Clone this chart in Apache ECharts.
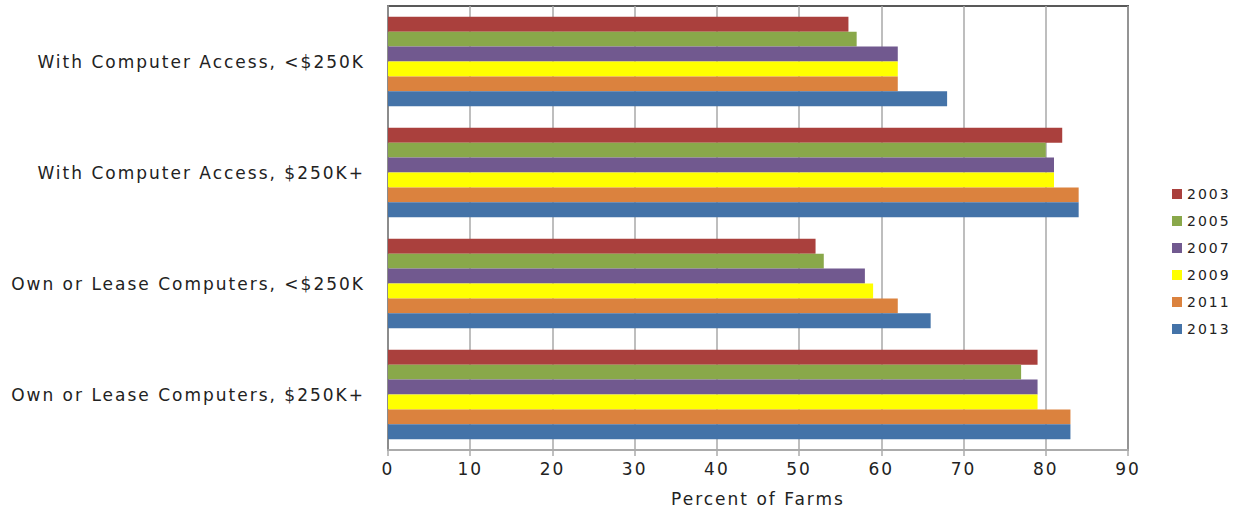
<!DOCTYPE html>
<html>
<head>
<meta charset="utf-8">
<script src="https://cdn.jsdelivr.net/npm/echarts@6/dist/echarts.min.js"></script>
<style>
html,body{margin:0;padding:0;background:#fff;}
#chart{width:1236px;height:514px;}
#chart text{letter-spacing:2px;}
</style>
</head>
<body>
<div id="chart"></div>
<script>
const categories = [
  "With Computer Access, <$250K",
  "With Computer Access, $250K+",
  "Own or Lease Computers, <$250K",
  "Own or Lease Computers, $250K+"
];
const years = ["2003", "2005", "2007", "2009", "2011", "2013"];
const v2003 = [56, 82, 52, 79];
const v2005 = [57, 80, 53, 77];
const v2007 = [62, 81, 58, 79];
const v2009 = [62, 81, 59, 79];
const v2011 = [62, 84, 62, 83];
const v2013 = [68, 84, 66, 83];
const seriesValues = [v2003, v2005, v2007, v2009, v2011, v2013];
const colors = ['#AA403D', '#89A84A', '#71598F', '#FFFF00', '#DB823E', '#4473A8'];
const xTicks = [0, 10, 20, 30, 40, 50, 60, 70, 80, 90];
const axisTitle = "Percent of Farms";

const FONT = "DejaVu Sans";
const chart = echarts.init(document.getElementById('chart'), null, {renderer: 'svg'});
chart.setOption({
  animation: false,
  backgroundColor: '#fff',
  color: colors,
  textStyle: {fontFamily: FONT},
  grid: {
    left: 388, right: 108, top: 6, bottom: 64,
    outerBoundsMode: 'none',
    containLabel: false,
    show: true, borderColor: '#595959', borderWidth: 2, backgroundColor: 'transparent'
  },
  legend: {
    orient: 'vertical',
    left: 1172, top: 186,
    padding: 0,
    itemWidth: 10, itemHeight: 10, itemGap: 11,
    icon: 'rect',
    textStyle: {fontFamily: FONT, fontSize: 14, color: '#222', lineHeight: 16},
    data: years
  },
  xAxis: {
    type: 'value',
    min: xTicks[0], max: xTicks[xTicks.length - 1], interval: 10,
    name: axisTitle,
    nameLocation: 'middle', nameGap: 40,
    nameTextStyle: {fontFamily: FONT, fontSize: 17, color: '#222'},
    axisLine: {show: true, lineStyle: {color: '#ababab', width: 2}},
    axisTick: {show: true, length: 6, lineStyle: {color: '#ababab', width: 1.5}},
    axisLabel: {fontFamily: FONT, fontSize: 17, color: '#222', margin: 10},
    splitLine: {show: true, lineStyle: {color: '#a8a8a8', width: 1.5}}
  },
  yAxis: {
    type: 'category',
    inverse: true,
    data: categories,
    axisLine: {show: true, lineStyle: {color: '#8c8c8c', width: 2}},
    axisTick: {show: false},
    axisLabel: {fontFamily: FONT, fontSize: 17, color: '#222', margin: 23}
  },
  series: years.map((y, i) => ({
    name: y,
    type: 'bar',
    data: seriesValues[i],
    barGap: '0%',
    barCategoryGap: '19.5%',
    itemStyle: {color: colors[i]}
  }))
});
</script>
</body>
</html>
